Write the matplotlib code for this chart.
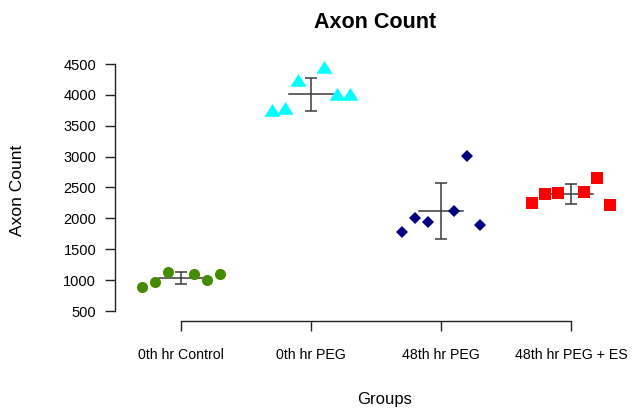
import numpy as np
import matplotlib
matplotlib.use("Agg")
import matplotlib.pyplot as plt
from matplotlib.path import Path

plt.rcParams['font.family'] = ['Liberation Sans', 'DejaVu Sans']

# ---- data ----
groups = ["0th hr Control", "0th hr PEG", "48th hr PEG", "48th hr PEG + ES"]
control = [893, 965, 1131, 1104, 1002, 1099]
peg_0h = [3720, 3757, 4206, 4421, 3979, 3979]
peg_48h = [1774, 2011, 1936, 2119, 3015, 1888]
peg_es_48h = [2244, 2395, 2406, 2422, 2659, 2211]
yticks = [500, 1000, 1500, 2000, 2500, 3000, 3500, 4000, 4500]

series = [control, peg_0h, peg_48h, peg_es_48h]
colors = ["#458B00", "#00FFFF", "#000080", "#FF0000"]
tri = Path([(-1, -0.533), (1, -0.533), (0, 1.067), (-1, -0.533)],
           [Path.MOVETO, Path.LINETO, Path.LINETO, Path.CLOSEPOLY])
markers = ["o", tri, "D", "s"]
msizes = [8.0, 12.3, 5.8, 8.9]
offsets = np.array([-0.3, -0.2, -0.1, 0.1, 0.2, 0.3])

W, H = 632, 411
fig = plt.figure(figsize=(W / 100, H / 100), dpi=100)
ax = fig.add_axes([122.5 / W, 100 / H, 507 / W, 247 / H])
ax.set_xlim(0.55, 4.45)
ax.set_ylim(500, 4500)

err_color = "#3a3a3a"
for i, vals in enumerate(series):
    xc = i + 1
    v = np.array(vals, dtype=float)
    m = v.mean()
    sd = v.std(ddof=1)
    ax.plot([xc - 0.17, xc + 0.17], [m, m], color=err_color, lw=1.1,
            clip_on=False, zorder=2)
    ax.errorbar([xc], [m], yerr=[sd], fmt="none", ecolor=err_color,
                elinewidth=1.1, capsize=4.3, capthick=1.1, zorder=2,
                clip_on=False)
    ax.plot(xc + offsets, v, linestyle="none", marker=markers[i],
            markersize=msizes[i], color=colors[i], markeredgewidth=0,
            clip_on=False, zorder=3)

for s in ["top", "right"]:
    ax.spines[s].set_visible(False)
ax.spines["left"].set_bounds(500, 4500)
ax.spines["left"].set_position(("outward", 5.4))
ax.spines["bottom"].set_bounds(1, 4)
ax.spines["bottom"].set_position(("outward", 7.0))
for s in ["left", "bottom"]:
    ax.spines[s].set_color("#222222")
    ax.spines[s].set_linewidth(1.0)

ax.set_yticks(yticks)
ax.set_yticklabels([str(t) for t in yticks])
ax.set_xticks([1, 2, 3, 4])
ax.set_xticklabels(groups)
ax.tick_params(axis="y", direction="out", length=7.5, width=1.0,
               color="#222222", labelsize=10.5, pad=6)
ax.tick_params(axis="x", direction="out", length=7.5, width=1.0,
               color="#222222", labelsize=10.2, pad=12)

fig.text(375 / W, 1 - 22 / H, "Axon Count", ha="center", va="center",
         fontsize=15.5, fontweight="bold")
fig.text(18 / W, 1 - 190 / H, "Axon Count", ha="center", va="center",
         rotation=90, fontsize=12.5)
fig.text(385 / W, 1 - 399 / H, "Groups", ha="center", va="center",
         fontsize=12)

fig.savefig("out.png", dpi=100, facecolor="white")
